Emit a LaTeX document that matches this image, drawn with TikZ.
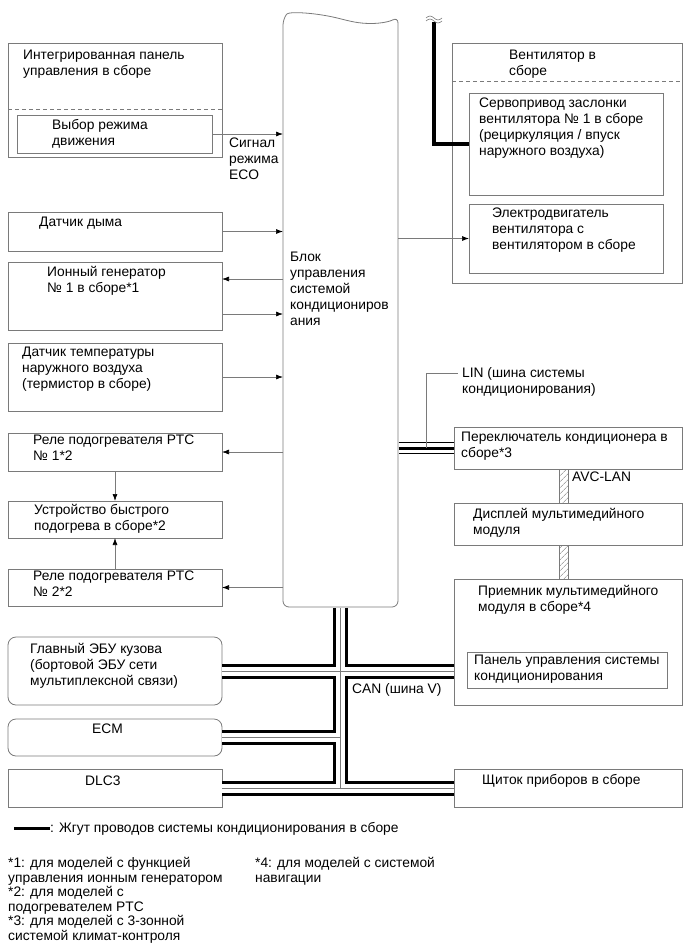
\documentclass[tikz,border=0pt]{standalone}
\usepackage{fontspec}
\setmainfont{Liberation Sans}
\usetikzlibrary{arrows.meta,calc,patterns.meta}
\definecolor{linegray}{HTML}{7A7A7A}
\newcommand{\dgmfont}{\fontsize{13.8}{16}\selectfont}
\newcommand{\fnfont}{\fontsize{13.8}{15.5}\selectfont}

\begin{document}
\begin{tikzpicture}[x=1pt, y=-1pt,
  box/.style={draw=linegray, line width=0.8pt, anchor=north west, inner sep=0pt, outer sep=0pt},
  rbox/.style={box, rounded corners=8pt},
  txt/.style={anchor=north west, align=left, inner sep=0pt, font=\dgmfont},
  sig/.style={draw=linegray, line width=0.7pt, -{Latex[length=7pt,width=5pt,color=black]}},
  harn/.style={line width=3.5pt, black},
  sep/.style={draw=linegray, line width=0.7pt, dash pattern=on 4pt off 3pt}]
  \useasboundingbox (0,0) rectangle (690,951);

  % left column
  \node[box, minimum width=214pt, minimum height=114pt] (pnl) at (8,43) {};
  \draw[sep] ([yshift=-66pt]pnl.north west) -- ([yshift=-66pt]pnl.north east);
  \node[box, minimum width=195pt, minimum height=38pt] (drv) at (17,115) {};
  \node[box, minimum width=214pt, minimum height=39pt] (smoke) at (8,212) {};
  \node[box, minimum width=214pt, minimum height=68pt] (ion) at (8,262) {};
  \node[box, minimum width=214pt, minimum height=68pt] (tmp) at (8,343) {};
  \node[box, minimum width=214pt, minimum height=38pt] (rel1) at (8,433) {};
  \node[box, minimum width=214pt, minimum height=37pt] (heat) at (8,501) {};
  \node[box, minimum width=214pt, minimum height=37pt] (rel2) at (8,569) {};
  \node[rbox, minimum width=214pt, minimum height=68pt] (body) at (8,637) {};
  \node[rbox, minimum width=214pt, minimum height=37pt] (ecm) at (8,719) {};
  \node[box, minimum width=214pt, minimum height=38pt] (dlc) at (8,769) {};

  % right column
  \node[box, minimum width=230pt, minimum height=240pt] (fan) at (452,43) {};
  \draw[sep] ([yshift=-38pt]fan.north west) -- ([yshift=-38pt]fan.north east);
  \node[box, minimum width=194pt, minimum height=102pt] (servo) at (469,93) {};
  \node[box, minimum width=194pt, minimum height=69pt] (motor) at (469,204) {};
  \node[box, minimum width=228pt, minimum height=42pt] (sw) at (454,427) {};
  \node[box, minimum width=228pt, minimum height=42pt] (disp) at (454,503) {};
  \node[box, minimum width=228pt, minimum height=126pt] (recv) at (454,579) {};
  \node[box, minimum width=200pt, minimum height=36pt] (acp) at (467,652) {};
  \node[box, minimum width=228pt, minimum height=38pt] (cl) at (454,769) {};

  % A/C amplifier
  \node[inner sep=0pt, outer sep=0pt, minimum width=115pt, minimum height=590pt, anchor=north west] (ecu) at (283,17) {};
  \draw[linegray, line width=0.8pt, rounded corners=6pt] (283,607) -- (283,19)
    .. controls (289,11) and (318,13) .. (345,20)
    .. controls (372,26) and (389,22) .. (398,17) -- (398,607) -- cycle;

  % texts
  \node[txt] (tpnl) at (23,50) {Интегрированная панель\\управления в сборе};
  \node[txt] (tdrv) at (52,119) {Выбор режима\\движения};
  \node[txt] (teco) at (229,138) {Сигнал\\режима\\ECO};
  \node[txt] (tfan) at (509,50) {Вентилятор в\\сборе};
  \node[txt] (tservo) at (479,98) {Сервопривод заслонки\\вентилятора № 1 в сборе\\(рециркуляция / впуск\\наружного воздуха)};
  \node[txt] (tmotor) at (492,208) {Электродвигатель\\вентилятора с\\вентилятором в сборе};
  \node[txt] (tsmoke) at (39,217) {Датчик дыма};
  \node[txt] (tion) at (47,266) {Ионный генератор\\№ 1 в сборе*1};
  \node[txt] (ttmp) at (22,347) {Датчик температуры\\наружного воздуха\\(термистор в сборе)};
  \node[txt] (tecu) at (290,252) {Блок\\управления\\системой\\кондициониров\\ания};
  \node[txt] (tlin) at (462,367) {LIN (шина системы\\кондиционирования)};
  \node[txt] (trel1) at (33,435) {Реле подогревателя PTC\\№ 1*2};
  \node[txt] (theat) at (34,504) {Устройство быстрого\\подогрева в сборе*2};
  \node[txt] (trel2) at (33,571) {Реле подогревателя PTC\\№ 2*2};
  \node[txt] (tsw) at (461,432) {Переключатель кондиционера в\\сборе*3};
  \node[txt] (tavc) at (572,472) {AVC-LAN};
  \node[txt] (tdisp) at (473,508) {Дисплей мультимедийного\\модуля};
  \node[txt] (trecv) at (478,585) {Приемник мультимедийного\\модуля в сборе*4};
  \node[txt] (tacp) at (474,655) {Панель управления системы\\кондиционирования};
  \node[txt] (tbody) at (30,643) {Главный ЭБУ кузова\\(бортовой ЭБУ сети\\мультиплексной связи)};
  \node[txt] (tecm) at (92,724) {ECM};
  \node[txt] (tdlc) at (85,776) {DLC3};
  \node[txt] (tcl) at (482,774) {Щиток приборов в сборе};
  \node[txt] (tcan) at (352,683) {CAN (шина V)};

  % signal lines
  \draw[sig] (drv.east) -- (drv.east -| ecu.west);
  \draw[sig] (smoke.east) -- (smoke.east -| ecu.west);
  \coordinate (i1) at ([yshift=17pt]ion.east);
  \coordinate (i2) at ([yshift=-18pt]ion.east);
  \draw[sig] (i1 -| ecu.west) -- (i1);
  \draw[sig] (i2) -- (i2 -| ecu.west);
  \draw[sig] (tmp.east) -- (tmp.east -| ecu.west);
  \draw[sig] (rel1.east -| ecu.west) -- (rel1.east);
  \draw[sig] (rel2.east -| ecu.west) -- (rel2.east);
  \draw[sig] (rel1.south) -- (heat.north);
  \draw[sig] (rel2.north) -- (heat.south);
  \draw[sig] (motor.west -| ecu.east) -- (motor.west);

  % harness to servo
  \coordinate (brk) at (434,22);
  \draw[harn] (brk) |- (servo.west);
  \draw[linegray, line width=0.6pt] (426,18) sin (430,16) cos (434,18) sin (438,20) cos (442,18)
    (426,21) sin (430,19) cos (434,21) sin (438,23) cos (442,21);

  % LIN
  \foreach \lw/\lc in {12pt/black, 10pt/white, 3pt/black}
    \draw[line width=\lw, \lc] ([xshift=0.5pt]sw.west -| ecu.east) -- (sw.west);
  \coordinate (lintap) at ($(sw.west -| ecu.east)!0.5!(sw.west)$);
  \draw[linegray, line width=0.7pt] (lintap) |- ([xshift=-4pt,yshift=-6pt]tlin.north west);

  % AVC-LAN
  \draw[linegray, line width=0.6pt, pattern={Lines[angle=45,distance=4pt,line width=0.5pt]}, pattern color=linegray]
    ([xshift=-9pt]sw.south) rectangle (disp.north)
    ([xshift=-9pt]disp.south) rectangle (recv.north);

  % CAN
  \foreach \lw/\lc in {15pt/black, 9pt/white}
    \draw[line width=\lw, \lc] ([yshift=-0.5pt]ecu.south) -- (ecu.south |- dlc.east)
      (body.east) -- (body.east -| recv.west)
      (ecm.east) -- (ecm.east -| ecu.south)
      (dlc.east) -- (cl.west);
  \draw[linegray, line width=0.5pt] ([yshift=-0.5pt]ecu.south) -- (ecu.south |- dlc.east)
    (body.east) -- (body.east -| recv.west)
    (ecm.east) -- (ecm.east -| ecu.south)
    (dlc.east) -- (cl.west);

  % legend and notes
  \node[txt] (tleg) at (50,822) {: Жгут проводов системы кондиционирования в сборе};
  \draw[harn] (tleg.west) -- ++(-36,0);
  \node[txt, font=\fnfont] (fn1) at (8,857) {*1: для моделей с функцией\\управления ионным генератором};
  \node[txt, font=\fnfont] (fn2) at (8,886) {*2: для моделей с\\подогревателем PTC};
  \node[txt, font=\fnfont] (fn3) at (8,915) {*3: для моделей с 3-зонной\\системой климат-контроля};
  \node[txt, font=\fnfont] (fn4) at (255,857) {*4: для моделей с системой\\навигации};
\end{tikzpicture}
\end{document}
